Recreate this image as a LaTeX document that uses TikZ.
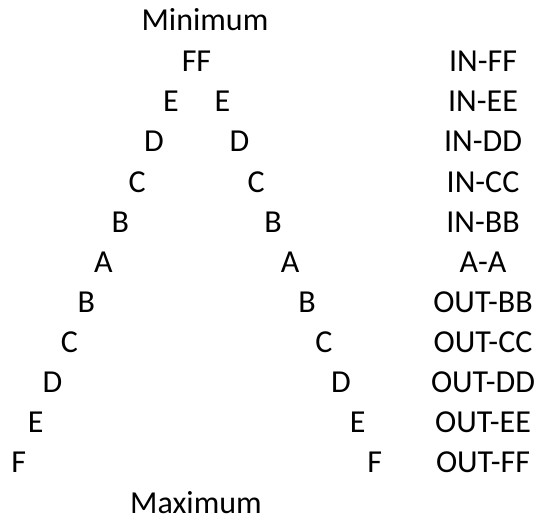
\documentclass[tikz,border=0pt]{standalone}
\usepackage{fontspec}
\setmainfont{Carlito}
\begin{document}
\begin{tikzpicture}[x=1pt,y=-1pt,
  lbl/.style={anchor=base, inner sep=0pt, font=\fontsize{32}{38}\selectfont}]
\useasboundingbox (0,0) rectangle (534,519);
\node[lbl] (min) at (205,30.7) {Minimum};
\node[lbl] (l0) at (196.5,71.7) {FF};
\node[lbl] (t0) at (483,71.7) {IN-FF};
\foreach \k/\c/\t in {1/E/IN-EE,2/D/IN-DD,3/C/IN-CC,4/B/IN-BB,5/A/A-A,6/B/OUT-BB,7/C/OUT-CC,8/D/OUT-DD,9/E/OUT-EE,10/F/OUT-FF}{
  \pgfmathsetmacro{\d}{8.8+16.92*\k}
  \pgfmathsetmacro{\yy}{71.7+40.1*\k}
  \node[lbl] (l\k) at (196.7-\d,\yy) {\c};
  \node[lbl] (r\k) at (196.7+\d,\yy) {\c};
  \node[lbl] (t\k) at (483,\yy) {\t};
}
\node[lbl] (max) at (196,513) {Maximum};
\end{tikzpicture}
\end{document}
